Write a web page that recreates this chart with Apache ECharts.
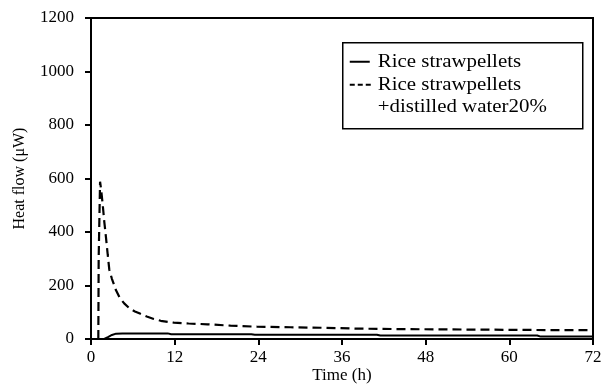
<!DOCTYPE html>
<html>
<head>
<meta charset="utf-8">
<script src="https://cdn.jsdelivr.net/npm/echarts@6/dist/echarts.min.js"></script>
<style>
  html, body { margin: 0; padding: 0; background: #fff; }
  #chart { width: 602px; height: 385px; }
</style>
</head>
<body>
<div id="chart"></div>
<script>
// data: [time (h), heat flow (uW)]
var xTicks = [0, 12, 24, 36, 48, 60, 72];
var yTicks = [0, 200, 400, 600, 800, 1000, 1200];

var pellets = [
    [0, 0], [1.9, 0], [2.5, 8], [3, 15], [3.6, 20], [4.5, 21], [11, 21],
    [11.5, 18], [23, 18], [23.5, 16], [41, 16], [41.5, 13], [64, 13],
    [64.5, 9], [72, 9]
];
var pelletsWater = [
    [1.05, 0], [1.1, 300], [1.3, 588], [1.45, 560], [1.67, 505], [1.9, 440],
    [2.14, 382], [2.4, 315], [2.62, 260], [3, 225], [3.57, 183], [4.1, 155],
    [4.76, 133], [5.5, 115], [6.3, 103], [7.1, 94], [8, 84], [9, 75],
    [10, 68], [11.9, 61], [14, 58], [16.7, 55], [20, 50], [23.8, 46],
    [28.6, 44], [33, 42], [38, 39], [44, 37], [50, 36], [56, 35],
    [62, 34], [67, 33], [72, 33]
];
var seriesNames = ['Rice strawpellets', 'Rice strawpellets\n+distilled water20%'];

var chart = echarts.init(document.getElementById('chart'));
var font = '"Liberation Serif", "Times New Roman", serif';

function legendText(str, y) {
    return {
        type: 'text', x: 35, y: y, scaleX: 1.1,
        style: { text: str, font: '19px ' + font, fill: '#000', verticalAlign: 'middle' }
    };
}

var option = {
    animation: false,
    backgroundColor: '#fff',
    textStyle: { fontFamily: font, color: '#000' },
    grid: {
        left: 91, right: 9, top: 18, bottom: 46,
        outerBoundsMode: 'none',
        show: true, borderColor: '#000', borderWidth: 2
    },
    xAxis: {
        type: 'value',
        min: xTicks[0], max: xTicks[xTicks.length - 1], interval: 12,
        name: 'Time (h)', nameLocation: 'middle', nameGap: 28,
        nameMoveOverlap: false,
        nameTextStyle: { fontFamily: font, fontSize: 17, color: '#000' },
        axisLine: { lineStyle: { color: '#000', width: 2 } },
        axisTick: { inside: false, length: 6, lineStyle: { color: '#000', width: 2 } },
        axisLabel: { fontFamily: font, fontSize: 17, color: '#000', margin: 10 },
        splitLine: { show: false }
    },
    yAxis: {
        type: 'value',
        min: yTicks[0], max: yTicks[yTicks.length - 1], interval: 200,
        name: 'Heat flow (μW)', nameLocation: 'middle', nameGap: 63,
        nameMoveOverlap: false,
        nameTextStyle: { fontFamily: font, fontSize: 16, color: '#000' },
        axisLine: { show: true, lineStyle: { color: '#000', width: 2 } },
        axisTick: { show: true, inside: false, length: 6, lineStyle: { color: '#000', width: 2 } },
        axisLabel: {
            fontFamily: font, fontSize: 17, color: '#000', margin: 17,
            formatter: function (v) { return String(v); }
        },
        splitLine: { show: false }
    },
    series: [
        {
            name: seriesNames[0],
            type: 'line',
            data: pellets,
            showSymbol: false,
            lineStyle: { color: '#000', width: 2 }
        },
        {
            name: seriesNames[1],
            type: 'line',
            data: pelletsWater,
            showSymbol: false,
            lineStyle: { color: '#000', width: 2.2, type: [9, 5] }
        }
    ],
    graphic: [
        {
            type: 'group',
            left: 342, top: 42,
            children: [
                { type: 'rect', shape: { x: 0, y: 0, width: 240, height: 86 },
                  style: { fill: '#fff', stroke: '#000', lineWidth: 1.5 } },
                { type: 'line', shape: { x1: 7, y1: 19, x2: 27, y2: 19 },
                  style: { stroke: '#000', lineWidth: 2 } },
                { type: 'line', shape: { x1: 7, y1: 42, x2: 28, y2: 42 },
                  style: { stroke: '#000', lineWidth: 2, lineDash: [5, 3] } },
                legendText(seriesNames[0], 19),
                legendText(seriesNames[1].split('\n')[0], 42),
                legendText(seriesNames[1].split('\n')[1], 64)
            ]
        }
    ]
};

chart.setOption(option);
</script>
</body>
</html>
